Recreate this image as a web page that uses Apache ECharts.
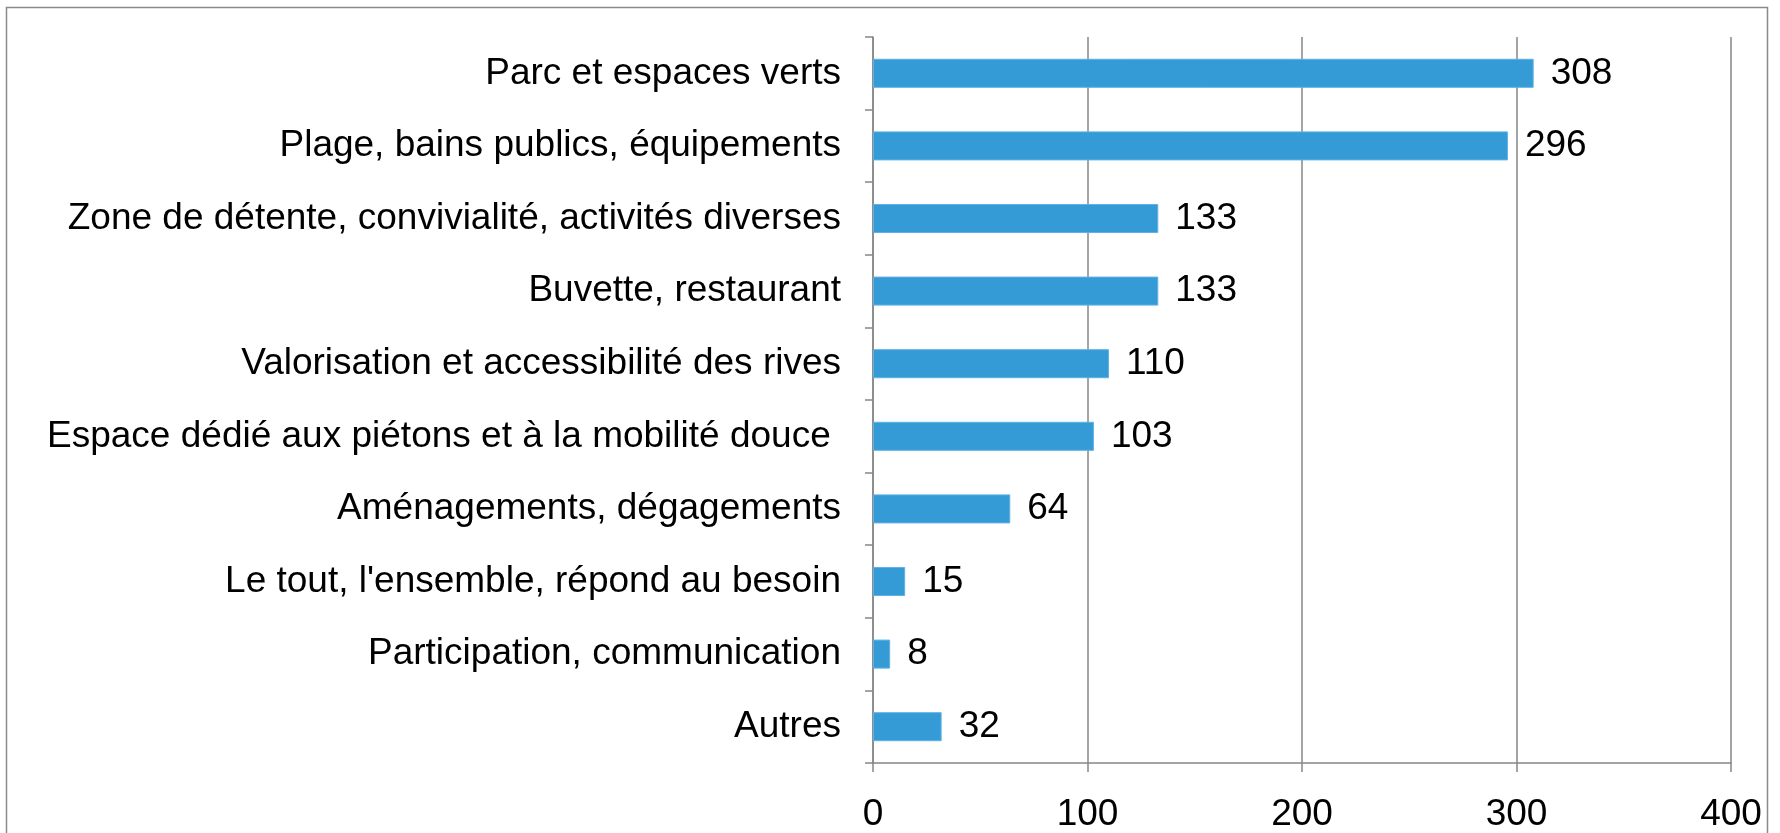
<!DOCTYPE html>
<html>
<head>
<meta charset="utf-8">
<script src="https://cdn.jsdelivr.net/npm/echarts@6/dist/echarts.min.js"></script>
<style>
  html, body { margin: 0; padding: 0; background: #fff; }
  #chart { width: 1780px; height: 833px; }
</style>
</head>
<body>
<div id="chart"></div>
<script>
// catégories (de haut en bas)
const categories = [
  'Parc et espaces verts',
  'Plage, bains publics, équipements',
  'Zone de détente, convivialité, activités diverses',
  'Buvette, restaurant',
  'Valorisation et accessibilité des rives',
  'Espace dédié aux piétons et à la mobilité douce ',
  'Aménagements, dégagements',
  "Le tout, l'ensemble, répond au besoin",
  'Participation, communication',
  'Autres'
]
const values = [308, 296, 133, 133, 110, 103, 64, 15, 8, 32]
const xTicks = [0, 100, 200, 300, 400]

const chart = echarts.init(document.getElementById('chart'))
const font = '"Liberation Sans", Arial, sans-serif'
const grey = '#878787'

chart.setOption({
  backgroundColor: '#fff',
  animation: false,
  graphic: [{
    type: 'rect',
    shape: { x: 6.5, y: 7.5, width: 1761, height: 840 },
    style: { fill: 'none', stroke: '#8a8a8a', lineWidth: 1.5 },
    silent: true
  }],
  grid: { left: 873, right: 49, top: 37, bottom: 70, outerBoundsMode: 'none' },
  xAxis: {
    type: 'value',
    min: xTicks[0],
    max: xTicks[xTicks.length - 1],
    interval: 100,
    axisLine: { show: true, lineStyle: { color: grey, width: 1.5 } },
    axisTick: { show: true, length: 9, lineStyle: { color: grey, width: 1.5 } },
    splitLine: { show: true, lineStyle: { color: grey, width: 1.5 } },
    axisLabel: { color: '#000', fontSize: 37, fontFamily: font, margin: 33 }
  },
  yAxis: {
    type: 'category',
    data: categories,
    inverse: true,
    axisLine: { show: true, lineStyle: { color: grey, width: 1.5 } },
    axisTick: { show: true, length: 8, lineStyle: { color: grey, width: 1.5 } },
    axisLabel: { color: '#000', fontSize: 37, fontFamily: font, margin: 32 }
  },
  series: [{
    type: 'bar',
    data: values,
    barWidth: '40%',
    itemStyle: { color: '#349bd6', borderColor: '#5fb1e2', borderWidth: 1 },
    label: {
      show: true,
      position: 'right',
      distance: 17,
      color: '#000',
      fontSize: 37,
      fontFamily: font
    }
  }]
})
</script>
</body>
</html>
